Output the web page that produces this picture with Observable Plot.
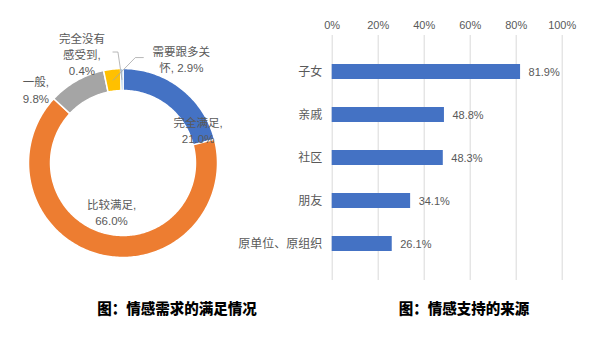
<!DOCTYPE html>
<html><head><meta charset="utf-8">
<script src="https://cdn.jsdelivr.net/npm/d3@7"></script>
<script src="https://cdn.jsdelivr.net/npm/@observablehq/plot@0.6"></script>
<style>
body{margin:0;background:#fff;}
#wrap{position:relative;width:597px;height:351px;overflow:hidden;background:#fff;}
#pie{position:absolute;left:0;top:0;}
#bars{position:absolute;left:230px;top:0;}
.cap{position:absolute;top:299px;font-family:"Noto Sans CJK SC",sans-serif;font-weight:900;font-size:14.5px;color:#000;white-space:nowrap;transform:translateX(-50%);line-height:18px;}
</style></head><body>
<div id="wrap"><div id="pie"></div><div id="bars"></div>
<div class="cap" id="cap1" style="left:177px"></div><div class="cap" id="cap2" style="left:464px"></div></div>
<script>
// ---- data: left donut ----
const segments = ["完全满足", "比较满足", "一般", "需要跟多关怀", "完全没有感受到"];
const shares = [21.0, 66.0, 9.8, 2.9, 0.4];
const segmentColors = ["#4472C4", "#ED7D31", "#A5A5A5", "#FFC000", "#5B9BD5"];
// ---- data: right bars ----
const sources = ["子女", "亲戚", "社区", "朋友", "原单位、原组织"];
const sourceShares = [81.9, 48.8, 48.3, 34.1, 26.1];
const xTicks = [0, 20, 40, 60, 80, 100];
const captions = ["图：情感需求的满足情况", "图：情感支持的来源"];

const FONT = '"Liberation Sans","Noto Sans CJK SC",sans-serif';
const TXT = "#595959";

// ---- donut geometry ----
const total = d3.sum(shares);
const INNER = 0.767;
let acc = 0;
const slices = segments.map((name, i) => {
  const a0 = acc / total * 2 * Math.PI; acc += shares[i];
  const a1 = acc / total * 2 * Math.PI;
  return {name, value: shares[i], a0, a1, mid: (a0 + a1) / 2};
});
const ringPts = [];
for (const s of slices) {
  const n = Math.max(2, Math.ceil((s.a1 - s.a0) / (Math.PI / 180)));
  for (let k = 0; k <= n; k++) { const a = s.a0 + (s.a1 - s.a0) * k / n; ringPts.push({name: s.name, x: Math.sin(a), y: Math.cos(a)}); }
  for (let k = n; k >= 0; k--) { const a = s.a0 + (s.a1 - s.a0) * k / n; ringPts.push({name: s.name, x: INNER * Math.sin(a), y: INNER * Math.cos(a)}); }
}
const RPX = 94.5; // pixels per unit radius
const MIDR = (1 + INNER) / 2 * 1.0;
const wrapped = {"完全满足": "完全满足,\n", "比较满足": "比较满足,\n", "一般": "一般,\n", "需要跟多关怀": "需要跟多关\n怀, ", "完全没有感受到": "完全没有\n感受到,\n"};
const nudge = {"完全满足": [24, 33], "比较满足": [9, -32], "一般": [-46, -1], "需要跟多关怀": [68, -21], "完全没有感受到": [-40, -26]};
const labelRows = slices.map(s => {
  const cx = MIDR * Math.sin(s.mid), cy = MIDR * Math.cos(s.mid);
  const [nx, ny] = nudge[s.name];
  return {name: s.name, cx, cy, x: cx + nx / RPX, y: cy - ny / RPX, text: wrapped[s.name] + s.value.toFixed(1) + "%"};
});
const leaderStart = {"需要跟多关怀": [-38, -1.5, -46], "完全没有感受到": [31, -1.5, 36]};
const leaders = [];
for (const r of labelRows) {
  const ls = leaderStart[r.name]; if (!ls) continue;
  const sx = r.x + ls[0] / RPX, sy = r.y - ls[1] / RPX;
  leaders.push({name: r.name, x: sx, y: sy});
  leaders.push({name: r.name, x: r.x + ls[2] / RPX, y: sy});
  leaders.push({name: r.name, x: r.cx, y: r.cy});
}
// reorder leader points: label side first, then elbow, then slice
const pie = Plot.plot({
  width: 245, height: 290,
  marginLeft: 28, marginRight: 28, marginTop: 68, marginBottom: 33,
  x: {domain: [-1, 1], axis: null},
  y: {domain: [-1, 1], axis: null},
  color: {domain: segments, range: segmentColors},
  style: {fontFamily: FONT, background: "transparent", overflow: "visible"},
  marks: [
    Plot.line(ringPts, {x: "x", y: "y", z: "name", fill: "name", stroke: "white", strokeWidth: 1.5, curve: "linear-closed"}),
    Plot.line(leaders, {x: "x", y: "y", z: "name", stroke: "#A6A6A6", strokeWidth: 0.8}),
    Plot.text(labelRows, {x: "x", y: "y", text: "text", fill: TXT, fontSize: 11.5, lineHeight: 1.4})
  ]
});
document.getElementById("pie").append(pie);

// ---- bars ----
const rows = sources.map((k, i) => ({k, v: sourceShares[i]}));
const bars = Plot.plot({
  width: 367, height: 300,
  marginLeft: 101.7, marginRight: 35.3, marginTop: 35, marginBottom: 20,
  style: {fontFamily: FONT, fontSize: "11px", color: TXT, background: "transparent", overflow: "visible"},
  x: {domain: [0, 100], axis: "top", ticks: xTicks, tickFormat: d => d + "%", tickSize: 0, tickPadding: 7, label: null},
  y: {domain: sources, padding: 0.65, axis: null},
  marks: [
    Plot.ruleX(xTicks, {stroke: "#D9D9D9", strokeWidth: 1}),
    Plot.barX(rows, {x: "v", y: "k", fill: "#4472C4"}),
    Plot.text(rows, {x: "v", y: "k", text: d => d.v.toFixed(1) + "%", dx: 8, textAnchor: "start", fill: TXT, fontSize: 11}),
    Plot.text(rows, {x: 0, y: "k", text: "k", dx: -10, textAnchor: "end", fill: TXT, fontSize: 12})
  ]
});
document.getElementById("bars").append(bars);
document.getElementById("cap1").textContent = captions[0];
document.getElementById("cap2").textContent = captions[1];
</script></body></html>
